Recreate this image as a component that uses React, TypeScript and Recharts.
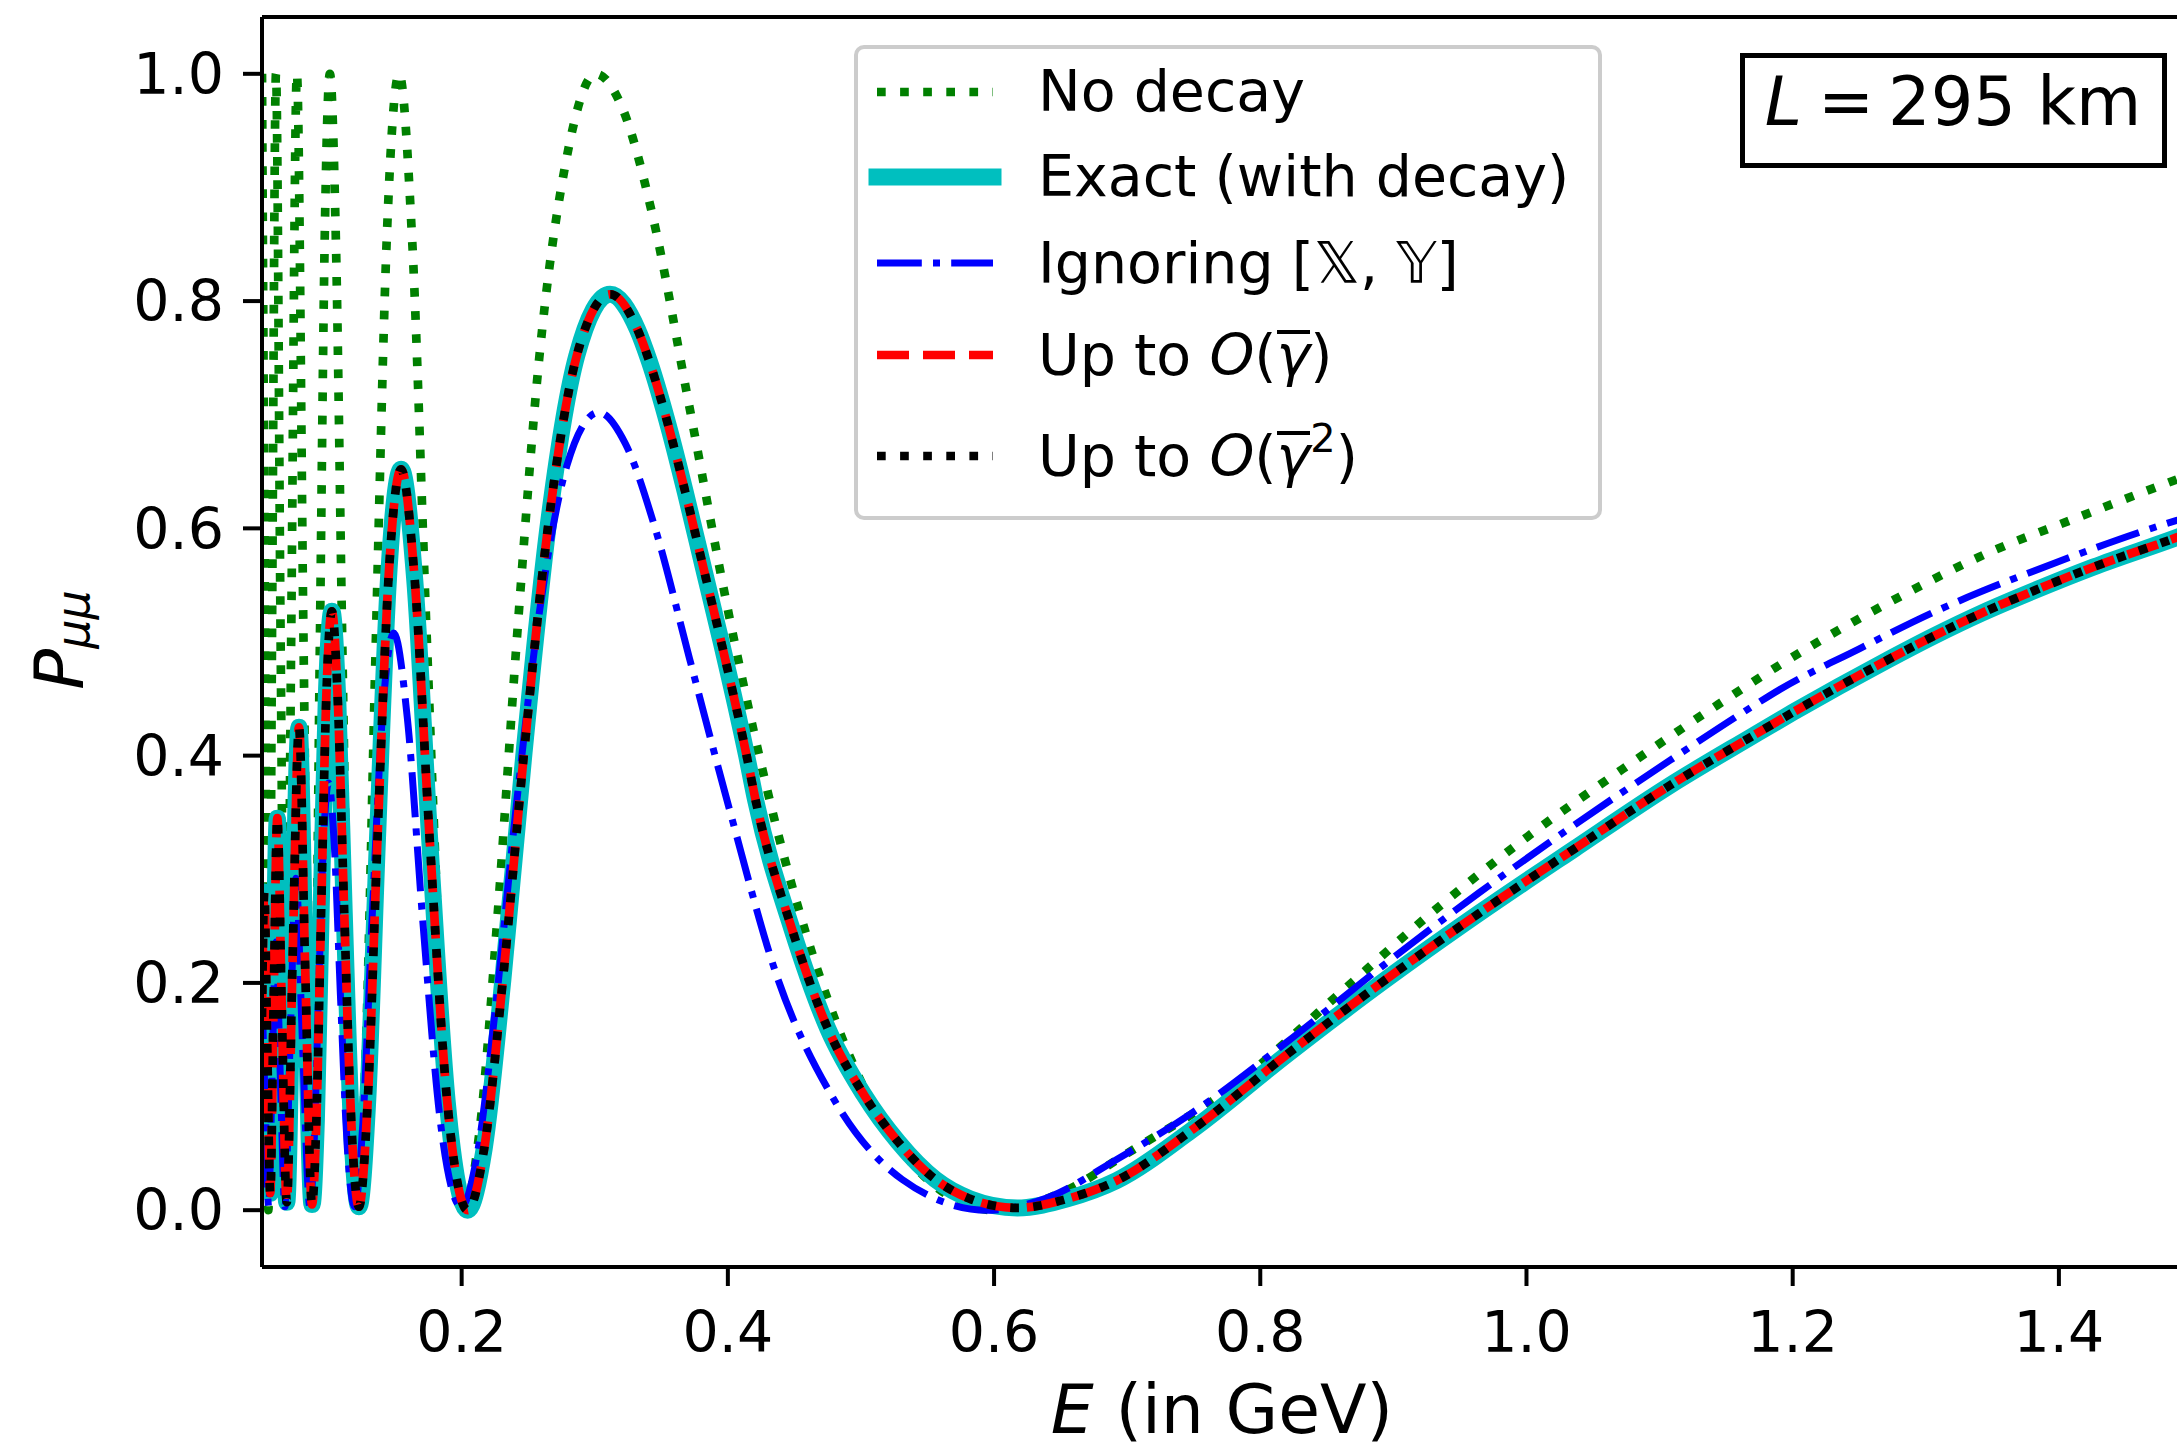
import React from 'react';
import { LineChart, Line, XAxis, YAxis, ReferenceLine, Legend } from 'recharts';

const FONT = '"DejaVu Sans", "Liberation Sans", sans-serif';

// ---- axis ticks ----
const xTicks = [0.2, 0.4, 0.6, 0.8, 1.0, 1.2, 1.4];
const yTicks = [0.0, 0.2, 0.4, 0.6, 0.8, 1.0];

// ---- "No decay" (green dotted) ----
const noDecayE = [
  0.0500, 0.0523, 0.0548, 0.0575, 0.0605, 0.0640, 0.0680, 0.0719, 0.0762, 0.0812,
  0.0870, 0.0901, 0.0935, 0.0971, 0.1010, 0.1055, 0.1103, 0.1156, 0.1215, 0.1281,
  0.1355, 0.1437, 0.1530, 0.1628, 0.1739, 0.1867, 0.2015, 0.2132, 0.2264, 0.2413,
  0.2583, 0.2779, 0.3007, 0.3207, 0.3435, 0.3698, 0.4006, 0.4369, 0.4804, 0.5335,
  0.6000, 0.6500, 0.7000, 0.7840, 0.8560, 0.9280, 1.0000, 1.0720, 1.1440, 1.1905,
  1.2807, 1.3460, 1.4084, 1.4885, 1.5000,
];
const noDecayP = [
  1.0, 0.5, 0.0, 0.5, 1.0, 0.5, 0.0, 0.5, 1.0, 0.5,
  0.0, 0.146, 0.5, 0.854, 1.0, 0.854, 0.5, 0.146, 0.0, 0.146,
  0.5, 0.854, 1.0, 0.854, 0.5, 0.146, 0.0, 0.067, 0.25, 0.5,
  0.75, 0.92, 1.0, 0.97, 0.875, 0.715, 0.525, 0.335, 0.168, 0.048,
  0.0, 0.015, 0.05, 0.113, 0.187, 0.261, 0.328, 0.388, 0.445, 0.48,
  0.54, 0.578, 0.607, 0.643, 0.648,
];

// ---- "Exact (with decay)" (cyan solid) ----
const exactE = [
  0.0500, 0.0517, 0.0539, 0.0562, 0.0587, 0.0615, 0.0649, 0.0686, 0.0729, 0.0778,
  0.0824, 0.0876, 0.0909, 0.0945, 0.0983, 0.1025, 0.1069, 0.1117, 0.1170, 0.1228,
  0.1295, 0.1368, 0.1451, 0.1545, 0.1646, 0.1760, 0.1892, 0.2045, 0.2169, 0.2309,
  0.2469, 0.2653, 0.2865, 0.3115, 0.3321, 0.3410, 0.3556, 0.3680, 0.3827, 0.3946,
  0.4141, 0.4210, 0.4480, 0.4750, 0.5020, 0.5280, 0.5560, 0.5820, 0.6175, 0.6550,
  0.6920, 0.7480, 0.8200, 0.8920, 0.9640, 1.0360, 1.1080, 1.1680, 1.2000, 1.2710,
  1.3055, 1.3430, 1.3810, 1.4260, 1.4885, 1.5000,
];
const exactP = [
  0.17, 0.28, 0.148, 0.015, 0.18, 0.345, 0.176, 0.007, 0.216, 0.425,
  0.215, 0.005, 0.081, 0.266, 0.451, 0.527, 0.45, 0.265, 0.08, 0.003,
  0.098, 0.328, 0.557, 0.652, 0.557, 0.326, 0.095, 0.0, 0.054, 0.202,
  0.403, 0.605, 0.752, 0.806, 0.775, 0.747, 0.689, 0.632, 0.56, 0.502,
  0.4, 0.36, 0.248, 0.16, 0.102, 0.06, 0.027, 0.01, 0.002, 0.01,
  0.026, 0.07, 0.137, 0.201, 0.261, 0.318, 0.374, 0.416, 0.438, 0.484,
  0.505, 0.526, 0.545, 0.566, 0.592, 0.597,
];

// ---- "Ignoring [X, Y]" (blue dash-dot) ----
const ignoringE = [
  0.0500, 0.0524, 0.0550, 0.0576, 0.0605, 0.0637, 0.0672, 0.0711, 0.0755, 0.0804,
  0.0860, 0.0891, 0.0925, 0.0961, 0.1000, 0.1043, 0.1089, 0.1140, 0.1196, 0.1258,
  0.1327, 0.1404, 0.1490, 0.1591, 0.1707, 0.1841, 0.1998, 0.2118, 0.2254, 0.2408,
  0.2585, 0.2790, 0.3030, 0.3228, 0.3454, 0.3713, 0.4016, 0.4371, 0.4794, 0.5310,
  0.5950, 0.6400, 0.6940, 0.7480, 0.8200, 0.8920, 0.9640, 1.0360, 1.1080, 1.1680,
  1.1900, 1.2500, 1.3055, 1.3980, 1.4885, 1.5000,
];
const ignoringP = [
  0.19, 0.095, 0.003, 0.12, 0.236, 0.12, 0.003, 0.147, 0.292, 0.147,
  0.003, 0.057, 0.19, 0.322, 0.376, 0.322, 0.19, 0.057, 0.003, 0.077,
  0.256, 0.434, 0.508, 0.434, 0.256, 0.077, 0.003, 0.05, 0.178, 0.353,
  0.527, 0.655, 0.702, 0.675, 0.6, 0.485, 0.351, 0.205, 0.098, 0.027,
  0.0, 0.011, 0.046, 0.085, 0.148, 0.215, 0.279, 0.339, 0.396, 0.442,
  0.458, 0.494, 0.526, 0.57, 0.607, 0.611,
];

// ---- "Up to O(γ̄)" and "Up to O(γ̄²)": indistinguishable from the exact curve in the picture ----
const firstOrderE = exactE;
const firstOrderP = exactP;
const secondOrderE = exactE;
const secondOrderP = exactP;

type Pt = { E: number; P: number };
const pair = (es: number[], ps: number[]): Pt[] => es.map((E, i) => ({ E, P: ps[i] }));

const noDecayData = pair(noDecayE, noDecayP);
const exactData = pair(exactE, exactP);
const ignoringData = pair(ignoringE, ignoringP);
const firstOrderData = pair(firstOrderE, firstOrderP);
const secondOrderData = pair(secondOrderE, secondOrderP);

const GREEN = '#008000';
const CYAN = '#00bfbf';
const BLUE = '#0000ff';
const RED = '#ff0000';
const BLACK = '#000000';

const GammaBar = () => (
  <span
    style={{
      display: 'inline-block',
      fontStyle: 'italic',
      borderTop: '4px solid #000',
      lineHeight: '0.75em',
      verticalAlign: 'baseline',
    }}
  >
    γ
  </span>
);

const legendRows = [
  { y: 42.7, stroke: GREEN, width: 8.7, dash: '8.7 14.4', cap: 'butt', label: <>No decay</> },
  { y: 127.7, stroke: CYAN, width: 17, dash: undefined, cap: 'square', label: <>Exact (with decay)</> },
  {
    y: 214.3,
    stroke: BLUE,
    width: 7,
    dash: '44.8 11.2 7 11.2',
    cap: 'butt',
    label: (
      <>
        Ignoring [<span style={{ fontStyle: 'italic' }}>𝕏</span>, <span style={{ fontStyle: 'italic' }}>𝕐</span>]
      </>
    ),
  },
  {
    y: 306,
    stroke: RED,
    width: 8.7,
    dash: '32 14',
    cap: 'butt',
    label: (
      <>
        Up to <i>O</i>(<GammaBar />)
      </>
    ),
  },
  {
    y: 407,
    stroke: BLACK,
    width: 8.7,
    dash: '8.7 14.4',
    cap: 'butt',
    label: (
      <>
        Up to <i>O</i>(<GammaBar />
        <span style={{ fontSize: '0.7em', position: 'relative', top: '-0.6em' }}>2</span>)
      </>
    ),
  },
];

const LegendPanel = () => (
  <div
    style={{
      position: 'relative',
      width: 748,
      height: 475,
      boxSizing: 'border-box',
      border: '4px solid #cccccc',
      borderRadius: 10,
      background: 'rgba(255,255,255,0.8)',
      fontFamily: FONT,
      fontSize: 57,
      color: '#000',
    }}
  >
    {legendRows.map((r, i) => (
      <React.Fragment key={i}>
        <svg style={{ position: 'absolute', left: 0, top: r.y - 15 }} width={180} height={30}>
          <line
            x1={19}
            x2={135}
            y1={15}
            y2={15}
            stroke={r.stroke}
            strokeWidth={r.width}
            strokeDasharray={r.dash}
            strokeLinecap={r.cap as any}
          />
        </svg>
        <div
          style={{
            position: 'absolute',
            left: 180,
            top: r.y - 28.5,
            height: 57,
            lineHeight: '57px',
            whiteSpace: 'nowrap',
          }}
        >
          {r.label}
        </div>
      </React.Fragment>
    ))}
  </div>
);

const XLabel = () => (
  <text x={1222} y={1433} textAnchor="middle" fontFamily={FONT} fontSize={68} fill="#000">
    <tspan fontStyle="italic">E</tspan>
    {' (in GeV)'}
  </text>
);

const YLabel = () => (
  <text
    x={83}
    y={640}
    transform="rotate(-90 83 640)"
    textAnchor="middle"
    fontFamily={FONT}
    fontSize={68}
    fill="#000"
  >
    <tspan fontStyle="italic">P</tspan>
    <tspan fontStyle="italic" fontSize={46} dy={6}>
      μμ
    </tspan>
  </text>
);

const fmt = (v: number) => v.toFixed(1);

export default function App() {
  const tickStyle = { fill: '#000', fontSize: 57, fontFamily: FONT };
  return (
    <div
      style={{
        position: 'absolute',
        left: 0,
        top: 0,
        width: 2177,
        height: 1450,
        overflow: 'hidden',
        background: '#fff',
        fontFamily: FONT,
      }}
    >
      <LineChart width={2200} height={1450} margin={{ top: 17, right: 8, left: 0, bottom: 0 }}>
        <XAxis
          type="number"
          dataKey="E"
          domain={[0.05, 1.5]}
          allowDataOverflow
          ticks={xTicks}
          tickFormatter={fmt}
          height={183}
          tickSize={19}
          tickMargin={26}
          axisLine={{ stroke: '#000', strokeWidth: 4 }}
          tickLine={{ stroke: '#000', strokeWidth: 4 }}
          tick={tickStyle}
          label={<XLabel />}
        />
        <YAxis
          type="number"
          dataKey="P"
          domain={[-0.05, 1.05]}
          allowDataOverflow
          ticks={yTicks}
          tickFormatter={fmt}
          width={262}
          tickSize={19}
          tickMargin={19}
          axisLine={{ stroke: '#000', strokeWidth: 4 }}
          tickLine={{ stroke: '#000', strokeWidth: 4 }}
          tick={tickStyle}
          label={<YLabel />}
        />
        <Line
          data={noDecayData}
          dataKey="P"
          type="monotone"
          stroke={GREEN}
          strokeWidth={8.7}
          strokeDasharray="8.7 14.4"
          strokeLinejoin="round"
          dot={false}
          activeDot={false}
          isAnimationActive={false}
          name="No decay"
        />
        <Line
          data={exactData}
          dataKey="P"
          type="monotone"
          stroke={CYAN}
          strokeWidth={17}
          strokeLinejoin="round"
          dot={false}
          activeDot={false}
          isAnimationActive={false}
          name="Exact (with decay)"
        />
        <Line
          data={ignoringData}
          dataKey="P"
          type="monotone"
          stroke={BLUE}
          strokeWidth={7}
          strokeDasharray="44.8 11.2 7 11.2"
          strokeLinejoin="round"
          dot={false}
          activeDot={false}
          isAnimationActive={false}
          name="Ignoring"
        />
        <Line
          data={firstOrderData}
          dataKey="P"
          type="monotone"
          stroke={RED}
          strokeWidth={8.7}
          strokeDasharray="32 14"
          strokeLinejoin="round"
          dot={false}
          activeDot={false}
          isAnimationActive={false}
          name="Up to O(g)"
        />
        <Line
          data={secondOrderData}
          dataKey="P"
          type="monotone"
          stroke={BLACK}
          strokeWidth={8.7}
          strokeDasharray="8.7 14.4"
          strokeLinejoin="round"
          dot={false}
          activeDot={false}
          isAnimationActive={false}
          name="Up to O(g2)"
        />
        <ReferenceLine y={1.05} stroke="#000" strokeWidth={4} />
        <Legend
          layout="vertical"
          align="center"
          verticalAlign="middle"
          content={() => <LegendPanel />}
          wrapperStyle={{ left: 854, top: 45, width: 748, height: 475 }}
        />
      </LineChart>
      <svg
        width={2177}
        height={200}
        style={{ position: 'absolute', left: 0, top: 0, pointerEvents: 'none' }}
      >
        <rect x={1742.5} y={55.5} width={422} height={110} fill="#fff" stroke="#000" strokeWidth={5} />
        <text x={1953} y={125} textAnchor="middle" fontFamily={FONT} fontSize={67} fill="#000">
          <tspan fontStyle="italic">L</tspan>
          <tspan dx={16}>=</tspan>
          <tspan dx={14}>295 km</tspan>
        </text>
      </svg>
    </div>
  );
}
